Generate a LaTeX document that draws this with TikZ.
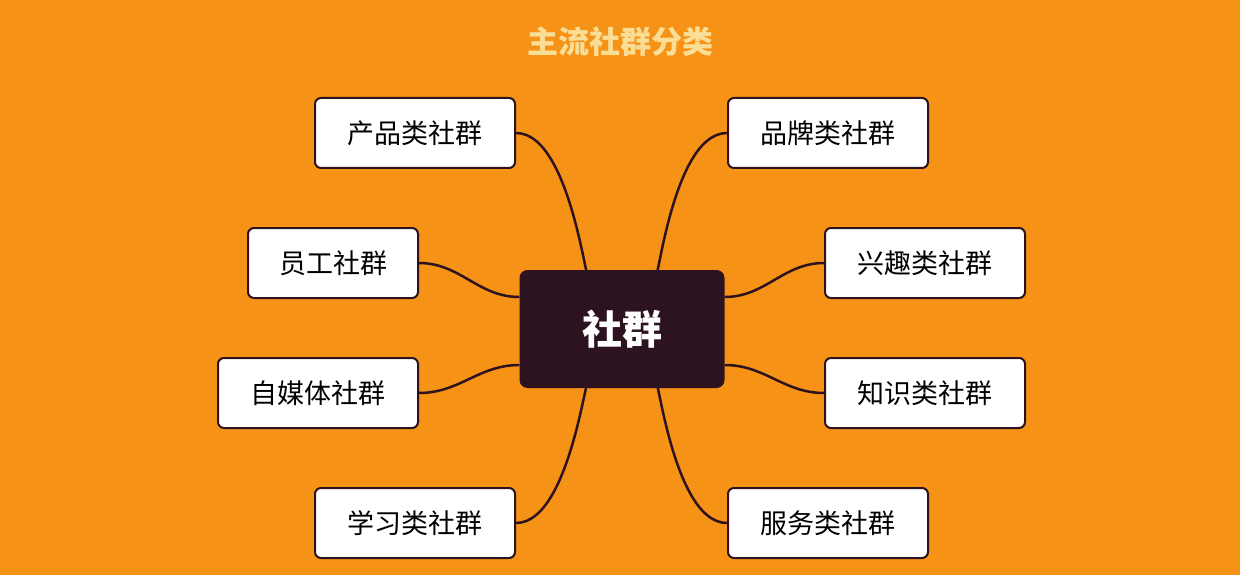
\documentclass[tikz,border=0pt]{standalone}
\usepackage{fontspec}
\newfontfamily\cjk{Noto Sans CJK SC}
\definecolor{bg}{RGB}{246,146,22}
\definecolor{dark}{RGB}{45,18,32}
\definecolor{ttl}{RGB}{250,222,150}
\begin{document}
\begin{tikzpicture}[x=1pt,y=-1pt,
  leaf/.style={draw=dark,line width=2pt,fill=white,rounded corners=6pt,minimum width=200pt,minimum height=70pt,font=\cjk\fontsize{27}{31}\selectfont,text=black},
  link/.style={draw=dark,line width=2.5pt}]
\fill[bg] (0,0) rectangle (1240,575);
\useasboundingbox (0,0) rectangle (1240,575);
\node[font=\cjk\bfseries\fontsize{31}{35}\selectfont,text=ttl] (title) at (620,42) {主流社群分类};
\node[fill=dark,rounded corners=8pt,minimum width=205pt,minimum height=118pt,text=white,font=\cjk\bfseries\fontsize{40}{44}\selectfont] (c) at (622,329) {社群};
\node[leaf] (a1) at (415,133) {产品类社群};
\node[leaf,minimum width=170pt] (a2) at (333,263) {员工社群};
\node[leaf] (a3) at (318,393) {自媒体社群};
\node[leaf] (a4) at (415,523) {学习类社群};
\node[leaf] (b1) at (828,133) {品牌类社群};
\node[leaf] (b2) at (925,263) {兴趣类社群};
\node[leaf] (b3) at (925,393) {知识类社群};
\node[leaf] (b4) at (828,523) {服务类社群};
\draw[link] ([xshift=-32pt]c.north) to[out=-90,in=0] (a1.east);
\draw[link] ([yshift=32pt]c.west) to[out=180,in=0] (a2.east);
\draw[link] ([yshift=-36pt]c.west) to[out=180,in=0] (a3.east);
\draw[link] ([xshift=-32pt]c.south) to[out=90,in=0] (a4.east);
\draw[link] ([xshift=32pt]c.north) to[out=-90,in=180] (b1.west);
\draw[link] ([yshift=32pt]c.east) to[out=0,in=180] (b2.west);
\draw[link] ([yshift=-36pt]c.east) to[out=0,in=180] (b3.west);
\draw[link] ([xshift=32pt]c.south) to[out=90,in=180] (b4.west);
\end{tikzpicture}
\end{document}
